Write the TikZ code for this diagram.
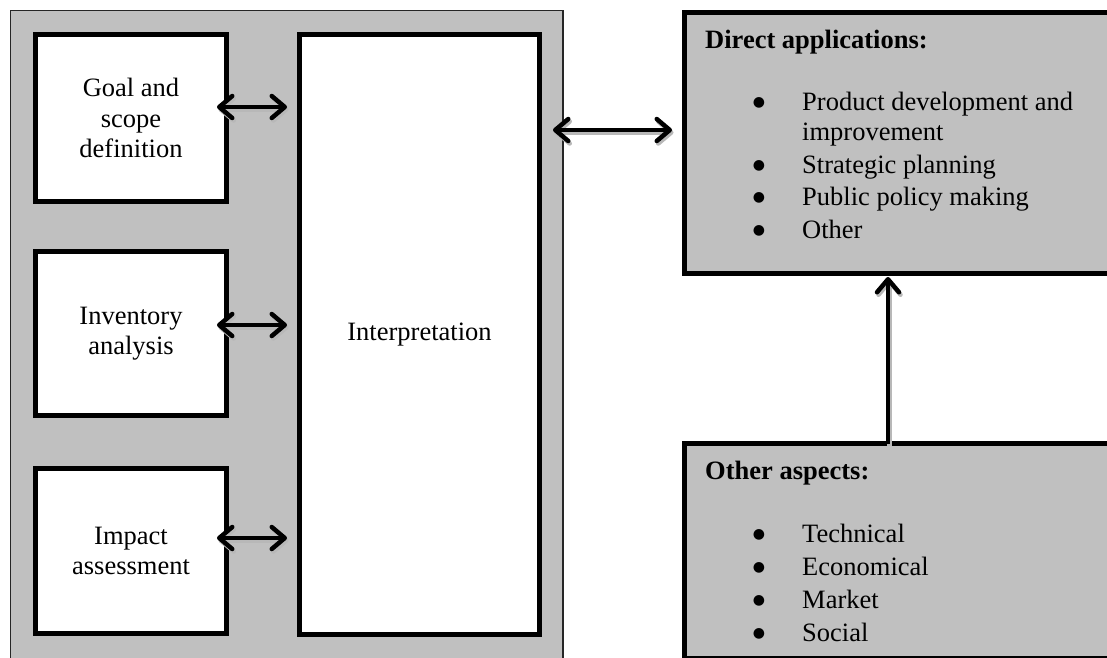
\documentclass[tikz,border=0pt]{standalone}
\usepackage{fontspec}
\setmainfont{Liberation Serif}
\newfontfamily\bulletfont{DejaVu Sans}
\usetikzlibrary{arrows.meta,calc}
\definecolor{boxgray}{RGB}{192,192,192}
\begin{document}
\begin{tikzpicture}[x=1pt,y=-1pt,
  font=\fontsize{26.5}{30.5}\selectfont,
  whitebox/.style={rectangle, draw=black, line width=5pt, fill=white, inner sep=0pt, outer sep=0pt, align=center},
  graybox/.style={rectangle, draw=black, line width=5pt, fill=boxgray, inner sep=0pt, outer sep=0pt},
  outerbox/.style={rectangle, draw=black!85, line width=1.3pt, fill=boxgray, inner sep=0pt, outer sep=0pt},
  link/.style={line width=4.5pt, {Straight Barb[round,length=13pt,width=22pt]}-{Straight Barb[round,length=13pt,width=22pt]}},
  uplink/.style={line width=4.5pt, -{Straight Barb[round,length=13pt,width=22pt]}},
  shadecopy/.style={draw=black!28, transform canvas={shift={(1.5pt,-2.5pt)}}},
  itemtxt/.style={anchor=base west, inner sep=0pt},
  bullet/.style={anchor=base, inner sep=0pt, yshift=3.5pt, font=\bulletfont\fontsize{14}{14}\selectfont}
]
\useasboundingbox (0,0) rectangle (1107,657);
\clip (0,0) rectangle (1107,657);

% left panel
\node[outerbox, minimum width=552.5pt, minimum height=660.5pt] (outer) at (286.75,340.75) {};
\node[whitebox, minimum width=191pt, minimum height=167pt] (goal) at (131,118) {Goal and\\scope\\definition};
\node[whitebox, minimum width=191pt, minimum height=164pt] (inv) at (131,333.5) {Inventory\\analysis};
\node[whitebox, minimum width=191pt, minimum height=165pt] (imp) at (131,551) {Impact\\assessment};
\node[whitebox, minimum width=240pt, minimum height=600pt] (interp) at (419.5,334.5) {Interpretation};

% right boxes
\node[graybox, minimum width=427.5pt, minimum height=261pt] (direct) at (898.25,143) {};
\node[graybox, minimum width=427.5pt, minimum height=215pt] (other) at (898.25,551) {};

\node[itemtxt] (dtitle) at (705,48) {\bfseries Direct applications:};
\node[bullet] (db1) at (759,110) {●};
\node[itemtxt] (di1) at (802,110) {Product development and};
\node[itemtxt] (di1b) at (802,140) {improvement};
\node[bullet] (db2) at (759,173) {●};
\node[itemtxt] (di2) at (802,173) {Strategic planning};
\node[bullet] (db3) at (759,205) {●};
\node[itemtxt] (di3) at (802,205) {Public policy making};
\node[bullet] (db4) at (759,238) {●};
\node[itemtxt] (di4) at (802,238) {Other};

\node[itemtxt] (otitle) at (705,479) {\bfseries Other aspects:};
\node[bullet] (ob1) at (759,542) {●};
\node[itemtxt] (oi1) at (802,542) {Technical};
\node[bullet] (ob2) at (759,575) {●};
\node[itemtxt] (oi2) at (802,575) {Economical};
\node[bullet] (ob3) at (759,608) {●};
\node[itemtxt] (oi3) at (802,608) {Market};
\node[bullet] (ob4) at (759,641) {●};
\node[itemtxt] (oi4) at (802,641) {Social};

% arrow shadows
\draw[link, shadecopy] ($(goal.east)+(-9.5pt,11pt)$) -- ($(goal.east -| interp.west)+(-12.5pt,11pt)$);
\draw[link, shadecopy] ($(inv.east)+(-9.5pt,8.5pt)$) -- ($(inv.east -| interp.west)+(-12.5pt,8.5pt)$);
\draw[link, shadecopy] ($(imp.east)+(-9.5pt,13pt)$) -- ($(imp.east -| interp.west)+(-12.5pt,13pt)$);
\draw[link, shadecopy] ($(interp.east |- direct.west)+(13.5pt,13pt)$) -- ($(direct.west)+(-12.5pt,13pt)$);
\draw[uplink, shadecopy] ($(other.north)+(-10.25pt,0pt)$) -- ($(direct.south)+(-10.25pt,-3.5pt)$);

% arrows
\draw[link] ($(goal.east)+(-9.5pt,11pt)$) -- ($(goal.east -| interp.west)+(-12.5pt,11pt)$);
\draw[link] ($(inv.east)+(-9.5pt,8.5pt)$) -- ($(inv.east -| interp.west)+(-12.5pt,8.5pt)$);
\draw[link] ($(imp.east)+(-9.5pt,13pt)$) -- ($(imp.east -| interp.west)+(-12.5pt,13pt)$);
\draw[link] ($(interp.east |- direct.west)+(13.5pt,13pt)$) -- ($(direct.west)+(-12.5pt,13pt)$);
\draw[uplink] ($(other.north)+(-10.25pt,0pt)$) -- ($(direct.south)+(-10.25pt,-3.5pt)$);
\end{tikzpicture}
\end{document}
